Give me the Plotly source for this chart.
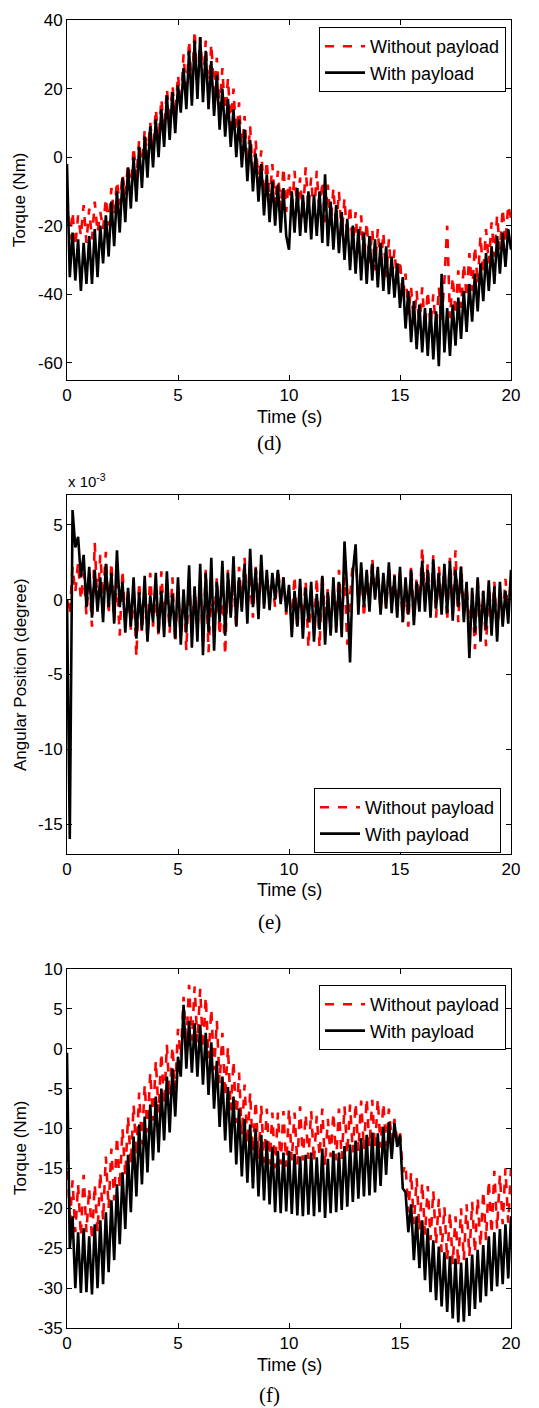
import plotly.graph_objects as go

# ---------------- data ----------------
time_s = [round(i * 0.125, 3) for i in range(161)]

torque_d_without = [
    -12, -24, -16, -26, -17, -23, -14, -25,
    -15, -24, -13, -22, -16, -21, -12, -20,
    -9, -17, -7, -14, -5, -11, -2, -10,
    3, -6, 5, -4, 8, 0, 10, 2,
    14, 5, 17, 8, 20, 10, 21, 12,
    24, 15, 30, 18, 34, 20, 37, 19,
    35, 21, 34, 17, 33, 19, 29, 14,
    26, 11, 23, 9, 20, 5, 16, 1,
    12, -2, 9, -6, 5, -8, 2, -11,
    -1, -13, -2, -14, -4, -15, -3, -16,
    -5, -17, -4, -16, -6, -18, -3, -15,
    -6, -18, -4, -17, -7, -19, -8, -20,
    -9, -21, -10, -23, -12, -24, -14, -27,
    -16, -29, -17, -30, -19, -31, -21, -33,
    -21, -33, -22, -35, -24, -36, -27, -37,
    -30, -41, -34, -46, -38, -49, -39, -50,
    -38, -50, -39, -49, -40, -51, -38, -48,
    -36, -20, -47, -35, -46, -33, -44, -31,
    -41, -28, -39, -26, -37, -23, -34, -21,
    -31, -19, -29, -17, -27, -15, -25, -14,
    -18,
]
torque_d_with = [
    -2, -35, -22, -36, -24, -39, -25, -37,
    -23, -37, -21, -35, -20, -31, -17, -29,
    -13, -26, -10, -22, -6, -19, -3, -15,
    0, -13, 3, -9, 6, -6, 9, -3,
    11, 0, 14, 3, 18, 5, 19, 7,
    21, 13, 26, 14, 31, 15, 34, 17,
    35, 16, 31, 14, 28, 12, 24, 8,
    20, 6, 17, 3, 14, 0, 11, -3,
    8, -7, 5, -10, 1, -13, -2, -17,
    -5, -19, -7, -20, -8, -22, -9, -23,
    -27, -10, -22, -9, -23, -11, -22, -10,
    -24, -11, -23, -10, -25, -5, -26, -13,
    -27, -14, -28, -16, -30, -18, -33, -20,
    -34, -21, -36, -22, -37, -23, -36, -24,
    -38, -25, -39, -26, -40, -29, -41, -31,
    -44, -35, -50, -39, -54, -42, -56, -43,
    -57, -44, -58, -44, -59, -45, -61, -34,
    -57, -44, -58, -43, -55, -41, -53, -39,
    -51, -37, -48, -34, -45, -31, -42, -28,
    -39, -26, -37, -23, -34, -22, -32, -21,
    -27,
]

# angular position, in units of 1e-3 degree
angle_e_without = [
    0, -1, 2.2, 0.5, 2.5, 0, 1.8, -1,
    1.5, -1.8, 3.8, -0.5, 3, 0.2, 3.2, -1,
    2.5, -1.4, 1.2, -2.4, 2, -1.5, 0.5, -2,
    0.8, -3.8, 1.2, -2.2, 0.6, -2.6, 1.8, -1.8,
    0.5, -2.5, 1.9, -1.4, 0.6, -2.2, 1.5, -2.9,
    1, -2.5, 0.4, -3.4, 1.7, -2.2, 0.8, -2,
    1, -2.8, 2, -3.5, 0.5, -1.5, 1.5, -2.4,
    0.5, -3.7, 2, -1, 1.4, -2, 2.2, -0.4,
    2.8, -0.5, 1.2, -1.2, 2.2, 0, 2.4, -0.3,
    1.6, 0, 1.2, -0.5, 2.1, 0.3, 1.5, -1,
    0.5, -1.5, 1.6, -2, 0.8, -1.2, 1.3, -3.2,
    0.5, -2, 1.5, -3.2, 1.8, -1.6, 0.8, -2.2,
    1, -1.8, 2, -1.4, 1.5, -3, 0.2, 2.5,
    3, -0.2, 2.2, -1.2, 1.8, -0.5, 2.8, 0.2,
    2, -0.8, 1.5, -0.6, 2.2, 0, 1.7, -0.8,
    1.8, -1.5, 0.8, -1.8, 2.3, -1.1, 1.5, -0.5,
    3.5, 0, 2.4, -0.9, 3, -1.2, 2.3, -0.2,
    2.1, -1.4, 2.8, -0.6, 3.3, -1.5, 2.3, -0.8,
    1, -2, 0.4, -3.3, 1.3, -1.6, 0.6, -3.1,
    0.9, -1.6, 1.2, -2.4, 0.5, -1.2, 1.4, -0.9,
    1.5,
]
angle_e_with = [
    0, -16, 6, 3.5, 4.2, 1.5, 3, -0.5,
    2.2, -1.2, 2, -0.8, 1.5, -1.5, 2.4, -0.5,
    1.8, -1.6, 3.3, -0.5, 1.2, -2.2, 0.8, -1.8,
    1.5, -2.6, 0.5, -2, 1.6, -2.8, 0.3, -1.5,
    1.8, -2.2, 0.6, -2.5, 1.9, -1.8, 0.4, -2.6,
    1.5, -3, 0.7, -2.2, 2.3, -3.2, 0.9, -2.8,
    2.4, -3.7, 1.8, -2.2, 2.8, -3.4, 1.2, -1.5,
    2.6, -2.4, 1.8, -1.2, 2.9, -1.8, 1.5, -0.8,
    2.4, -1.6, 3.4, -0.5, 2.1, -1.3, 3, -0.6,
    2, -0.7, 1.8, 0, 2, -0.3, 1.5, -0.8,
    1, -2.5, 0.6, -1.8, 1.4, -2.6, 0.8, -1.5,
    1.2, -2.8, 0.4, -2, 1.6, -3, 0.5, -2.4,
    1.5, -2.2, 1.2, -2.5, 3.9, 0.5, -4.2, 1.8,
    3.7, -1, 2.5, -0.5, 2, -0.8, 2.4, 0,
    2.2, -1, 1.8, -0.6, 2.5, -0.9, 1.6, -1.2,
    2.2, -1.5, 1.5, -1, 2, -1.7, 1.2, -0.8,
    2.6, -0.8, 2, -1.2, 2.7, -0.6, 1.8, -1,
    2.4, -0.9, 2.6, -1.4, 2, -0.5, 2.2, -1.5,
    1.2, -3.9, 0.8, -2.2, 1.5, -2.8, 0.6, -2,
    1.3, -2.4, 0.9, -2.8, 1.2, -1.8, 0.6, -1.6,
    2,
]

torque_f_without = [
    -10.8, -22, -16.5, -23, -17, -23.5, -15.8, -23,
    -17.5, -24, -17, -23, -15.5, -21.5, -13.5, -20,
    -12.5, -19, -11, -17.5, -10, -16, -8.5, -14.5,
    -7, -13.5, -5.5, -12, -4.5, -10.5, -3, -9,
    -1.5, -8, -0.5, -7, 0.5, -6, 0.3, -5,
    2.5, -1, 6.5, 0.5, 8, 1, 7.8, 0.8,
    7.5, 0, 6.5, -1.2, 5, -2.7, 3.5, -4.3,
    2, -6, 0.2, -7.7, -1.5, -9.3, -3, -10.8,
    -4.5, -12, -5.5, -13, -6.5, -13.8, -7.1, -14.3,
    -7.5, -14.5, -8, -15, -8, -14.5, -7.8, -14.8,
    -7.5, -14, -8, -14.5, -7.2, -14, -8.2, -13.8,
    -7.8, -14.2, -8.4, -13.5, -7.5, -14.6, -8.8, -13.6,
    -8, -14, -7.5, -13.8, -7.2, -13.2, -7, -13,
    -6.8, -12.8, -6.5, -12.6, -6.2, -12.3, -6.4, -12.5,
    -6.3, -12.4, -6.8, -12.2, -7.5, -11.5, -8.8, -11.5,
    -10.5, -15.5, -14.5, -20.5, -15.5, -22, -16.2, -22.8,
    -16.8, -23.3, -17.2, -24, -17.8, -24.5, -18.8, -25.5,
    -19.8, -26.5, -20.5, -27, -21, -27.2, -20, -26.5,
    -19.5, -26, -19.2, -25.6, -18.7, -24.8, -17.8, -24,
    -16.5, -23.2, -15.3, -22.6, -15.8, -22, -15, -21.8,
    -15,
]
torque_f_with = [
    -0.5, -25, -21, -30, -23, -30.6, -22.5, -30.5,
    -23.5, -30.8, -22, -30, -21.5, -29.5, -20.5, -28,
    -19, -26.5, -17, -24.5, -15.5, -22.6, -13.3, -20.5,
    -11, -18.5, -9.5, -17, -8.5, -15.5, -7, -14,
    -6, -13, -5, -11.5, -3.5, -10.5, -2.5, -8.5,
    -1, -3.5, 5.5, -2.5, 3.5, -3, 3.2, -3.5,
    3, -4.5, 2, -5.8, 0.8, -7.5, -1.5, -9.8,
    -3.5, -11.5, -4.8, -13, -6, -14.5, -7.5, -16,
    -8.8, -16.8, -9.5, -17.5, -10, -18.5, -10.8, -19,
    -11.5, -19.5, -12.3, -20.5, -12.8, -20.6, -13, -20.4,
    -12.8, -20.7, -13.2, -20.9, -13.5, -21, -13.3, -20.8,
    -13, -21, -13.6, -20.5, -12.5, -21.2, -13.8, -20.6,
    -12.8, -20.5, -13, -20.2, -12.2, -19.8, -12, -19.2,
    -11.5, -18.8, -11.2, -18.5, -10.8, -18.4, -10.5, -18,
    -10.6, -17.2, -9.8, -15.8, -9.2, -13.8, -9.3, -12.3,
    -10.8, -17.5, -18, -23, -19.5, -26.5, -21, -27.5,
    -21.5, -29, -22.5, -30.5, -24, -31.5, -24.8, -32.3,
    -25.5, -33, -26, -33.8, -26.3, -34.3, -26.8, -34.2,
    -26.2, -33.5, -25.8, -32.6, -25.2, -31.8, -24.6, -31,
    -23.5, -30.4, -23, -29.8, -22.6, -29.5, -22, -28.8,
    -21,
]

series_names = ["Without payload", "With payload"]
x_ticks = [0, 5, 10, 15, 20]
x_ticktext = ["0", "5", "10", "15", "20"]
d_ticks = [-60, -40, -20, 0, 20, 40]
e_ticks = [-15, -10, -5, 0, 5]
f_ticks = [-35, -30, -25, -20, -15, -10, -5, 0, 5, 10]

# ---------------- figure ----------------
FONT = "Liberation Sans, Arial, sans-serif"
fig = go.Figure()

panels = [
    ("x", "y", "legend", torque_d_without, torque_d_with),
    ("x2", "y2", "legend2", angle_e_without, angle_e_with),
    ("x3", "y3", "legend3", torque_f_without, torque_f_with),
]
for xa, ya, lg, s_without, s_with in panels:
    fig.add_trace(go.Scatter(x=time_s, y=s_without, mode="lines", name=series_names[0],
                             line=dict(color="#ff0000", width=2.6, dash="dash"),
                             xaxis=xa, yaxis=ya, legend=lg))
    fig.add_trace(go.Scatter(x=time_s, y=s_with, mode="lines", name=series_names[1],
                             line=dict(color="#000000", width=2.6),
                             xaxis=xa, yaxis=ya, legend=lg))

def tfmt(v):
    return str(v).replace("\u2212", "-")

axis_common = dict(showline=True, linecolor="black", linewidth=1, mirror="ticks",
                   ticks="inside", ticklen=5, tickcolor="black", showgrid=False,
                   zeroline=False, tickfont=dict(family=FONT, size=17, color="black"))

doms = {"1": [0.7248, 1.0], "2": [0.3624, 0.6368], "3": [0.0, 0.2745]}
yinfo = {"1": (d_ticks, [-65, 40]), "2": (e_ticks, [-17, 7]), "3": (f_ticks, [-35, 10])}
layout_axes = {}
for k in ["1", "2", "3"]:
    sx = "xaxis" if k == "1" else "xaxis" + k
    sy = "yaxis" if k == "1" else "yaxis" + k
    anchor_y = "y" if k == "1" else "y" + k
    anchor_x = "x" if k == "1" else "x" + k
    layout_axes[sx] = dict(axis_common, domain=[0, 1], range=[0, 20], anchor=anchor_y,
                           tickvals=x_ticks, ticktext=x_ticktext)
    tv, rg = yinfo[k]
    layout_axes[sy] = dict(axis_common, domain=doms[k], range=rg, anchor=anchor_x,
                           tickvals=tv, ticktext=[tfmt(v) for v in tv])

legend_common = dict(bgcolor="white", bordercolor="black", borderwidth=1,
                     font=dict(family=FONT, size=18, color="black"),
                     xanchor="right", yanchor="top", tracegroupgap=0, itemwidth=40)

def py(p):
    return (1328 - p) / 1308

def px(p):
    return (p - 67) / 444

annotations = []
for cy in [417, 890, 1365]:
    annotations.append(dict(text="Time (s)", x=0.5, y=py(cy), xref="paper", yref="paper",
                            showarrow=False, xanchor="center", yanchor="middle",
                            font=dict(family=FONT, size=18, color="black")))
for lab, cy in [("(d)", 443), ("(e)", 922), ("(f)", 1395)]:
    annotations.append(dict(text=lab, x=px(269), y=py(cy), xref="paper", yref="paper",
                            showarrow=False, xanchor="center", yanchor="middle",
                            font=dict(family="Liberation Serif, DejaVu Serif, serif", size=21, color="black")))
for lab, cy in [("Torque (Nm)", 200), ("Angular Position (degree)", 675), ("Torque (Nm)", 1148)]:
    annotations.append(dict(text=lab, x=px(20), y=py(cy), xref="paper", yref="paper",
                            showarrow=False, xanchor="center", yanchor="middle", textangle=-90,
                            font=dict(family=FONT, size=17, color="black")))
annotations.append(dict(text="x 10<sup>-3</sup>", x=px(66), y=py(480), xref="paper", yref="paper",
                        showarrow=False, xanchor="left", yanchor="middle",
                        font=dict(family=FONT, size=15, color="black")))

fig.update_layout(
    width=539, height=1408,
    margin=dict(l=67, r=28, t=20, b=80),
    paper_bgcolor="white", plot_bgcolor="white",
    showlegend=True,
    legend=dict(legend_common, x=px(506), y=py(27)),
    legend2=dict(legend_common, x=px(501), y=py(788)),
    legend3=dict(legend_common, x=px(506), y=py(985)),
    annotations=annotations,
    **layout_axes,
)

fig.write_html("out.html")
